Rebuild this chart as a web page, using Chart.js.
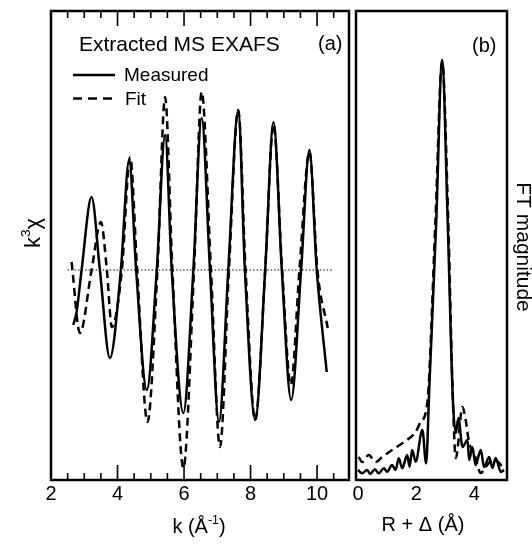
<!DOCTYPE html>
<html>
<head>
<meta charset="utf-8">
<script src="https://cdn.jsdelivr.net/npm/chart.js@4.4.1/dist/chart.umd.min.js"></script>
<style>
body { margin: 0; background: #fff; }
#wrap { position: relative; width: 532px; height: 544px; }
canvas { position: absolute; top: 0; }
#left { left: 0; }
#right { left: 340px; }
</style>
</head>
<body>
<div id="wrap">
<canvas id="left" width="356" height="544"></canvas>
<canvas id="right" width="192" height="544"></canvas>
</div>
<script>
// (a) extracted MS EXAFS, k^3 chi vs k
const kMeasured = [2.67, 2.77, 2.92, 3.22, 3.47, 3.77, 4.10, 4.35, 4.56, 4.88, 5.18, 5.43, 5.63, 5.98, 6.28,
    6.53, 6.78, 7.05, 7.33, 7.63, 7.83, 8.14, 8.44, 8.69, 8.94, 9.22, 9.52, 9.77, 9.99, 10.29];
const chiMeasured = [-5.5, -4.2, 0, 7.3, 0, -8.8, 0, 11.0, 0, -12.0, 0, 13.5, 0, -14.3, 0,
    15.2, 0, -15.2, 0, 16.0, 0, -15.0, 0, 14.8, 0, -13.0, 0, 12.0, 0, -10.2];
const kFit = [2.62, 2.87, 3.22, 3.50, 3.68, 3.83, 4.13, 4.38, 4.59, 4.90, 5.20, 5.43, 5.65, 5.98, 6.30,
    6.53, 6.81, 7.08, 7.35, 7.63, 7.85, 8.14, 8.44, 8.69, 8.95, 9.21, 9.47, 9.77, 10.01, 10.32];
const chiFit = [0.8, -6.3, 0, 4.8, 0, -5.7, 0, 11.3, 0, -15.2, 0, 17.3, 0, -19.8, 0,
    17.8, 0, -17.7, 0, 16.0, 0, -15.0, 0, 14.6, 0, -11.5, 0, 11.8, 0, -5.8];
const zeroLineK = [2.5, 10.5];
const kTicks = [2, 4, 6, 8, 10];

// (b) FT magnitude vs R + delta
const rMeasured = [0.00, 0.14, 0.31, 0.42, 0.58, 0.71, 0.89, 1.00, 1.17, 1.29, 1.40, 1.52, 1.69, 1.77, 1.86,
    1.98, 2.21, 2.34, 2.45, 2.69, 2.89, 3.08, 3.26, 3.36, 3.45, 3.59, 3.76, 3.82, 3.93, 4.04, 4.22,
    4.33, 4.51, 4.62, 4.73, 4.91, 5.02];
const ftMeasured = [1.0, 0.67, 1.0, 0.6, 1.07, 0.67, 1.17, 0.83, 1.5, 1.0, 2.17, 1.17, 2.5, 1.33, 3.0,
    1.83, 5.0, 1.67, 9.3, 26, 42, 26, 8, 4.7, 6.2, 3.3, 4.0, 2.0, 3.3, 1.5, 3.0,
    1.3, 2.3, 1.2, 2.2, 0.8, 1.0];
const rFit = [0.02, 0.14, 0.37, 0.60, 0.83, 1.17, 1.58, 1.98, 2.15, 2.38, 2.66, 2.89, 3.10, 3.24, 3.36,
    3.59, 3.70, 3.82, 3.99, 4.22, 4.39, 4.62, 4.85, 5.02];
const ftFit = [2.3, 1.8, 2.5, 1.8, 2.3, 3.0, 3.8, 4.8, 5.8, 7.7, 26, 41.8, 26, 10, 2.2,
    7.3, 6.0, 3.7, 2.7, 0.7, 1.3, 2.0, 1.7, 1.0];
const rTicks = [0, 1, 2, 3, 4, 5];

const FONT = '"Liberation Sans", Arial, Helvetica, sans-serif';
const pts = (xs, ys) => xs.map((x, i) => ({ x: x, y: ys[i] }));

// draws text pieces, some raised as superscripts
function richText(ctx, parts, x, y, size, align) {
    const widths = parts.map(p => {
        ctx.font = (p.sup ? size * 0.62 : size) + 'px ' + FONT;
        return ctx.measureText(p.t).width;
    });
    const total = widths.reduce((a, b) => a + b, 0);
    let cx = align === 'center' ? x - total / 2 : x;
    ctx.textAlign = 'left';
    ctx.textBaseline = 'alphabetic';
    parts.forEach((p, i) => {
        ctx.font = (p.sup ? size * 0.62 : size) + 'px ' + FONT;
        ctx.fillText(p.t, cx, p.sup ? y - size * 0.45 : y);
        cx += widths[i];
    });
}

// inward ticks on top and bottom + box round the plot
function frame(minorStep, majorStep, minorLen, majorLen) {
    return {
        id: 'frame',
        afterDraw(chart) {
            const { ctx, chartArea: a, scales: { x } } = chart;
            ctx.save();
            ctx.strokeStyle = '#000';
            ctx.lineWidth = 1.6;
            for (let v = x.min; v <= x.max + 1e-6; v += minorStep / 10) {
                const q = Math.round(v * 1000) / 1000;
                if (q <= x.min + 0.02 || q >= x.max - 0.02) continue;
                if (Math.abs(q / minorStep - Math.round(q / minorStep)) > 1e-6) continue;
                const major = Math.abs(q / majorStep - Math.round(q / majorStep)) < 1e-6;
                const len = major ? majorLen : minorLen;
                const px = x.getPixelForValue(q);
                ctx.beginPath();
                ctx.moveTo(px, a.bottom); ctx.lineTo(px, a.bottom - len);
                ctx.moveTo(px, a.top); ctx.lineTo(px, a.top + len);
                ctx.stroke();
            }
            ctx.lineWidth = 2.5;
            ctx.strokeRect(a.left, a.top, a.right - a.left, a.bottom - a.top);
            ctx.restore();
        }
    };
}

const leftText = {
    id: 'leftText',
    afterDraw(chart) {
        const ctx = chart.ctx;
        ctx.save();
        ctx.fillStyle = '#000';
        ctx.strokeStyle = '#000';
        ctx.textAlign = 'left';
        ctx.textBaseline = 'alphabetic';
        ctx.font = '21px ' + FONT;
        ctx.fillText('Extracted MS EXAFS', 79, 50.5);
        ctx.font = '20px ' + FONT;
        ctx.fillText('(a)', 318, 50);
        // legend
        ctx.font = '19px ' + FONT;
        ctx.fillText('Measured', 124, 81);
        ctx.fillText('Fit', 125, 105);
        ctx.lineWidth = 2.5;
        ctx.beginPath(); ctx.moveTo(73, 75); ctx.lineTo(115, 75); ctx.stroke();
        ctx.setLineDash([9, 6]);
        ctx.beginPath(); ctx.moveTo(73, 98.5); ctx.lineTo(115, 98.5); ctx.stroke();
        ctx.setLineDash([]);
        // axis titles
        richText(ctx, [{ t: 'k (Å' }, { t: '-1', sup: true }, { t: ')' }], 199, 533, 20, 'center');
        ctx.translate(40, 233);
        ctx.rotate(-Math.PI / 2);
        richText(ctx, [{ t: 'k' }, { t: '3', sup: true }, { t: 'χ' }], 0, 0, 22, 'center');
        ctx.restore();
    }
};

const rightText = {
    id: 'rightText',
    afterDraw(chart) {
        const ctx = chart.ctx;
        ctx.save();
        ctx.fillStyle = '#000';
        ctx.font = '20px ' + FONT;
        ctx.textAlign = 'left';
        ctx.textBaseline = 'alphabetic';
        ctx.fillText('(b)', 132, 52);
        ctx.textAlign = 'center';
        ctx.fillText('R + Δ (Å)', 83, 531);
        ctx.translate(177, 247);
        ctx.rotate(Math.PI / 2);
        ctx.font = '21px ' + FONT;
        ctx.fillText('FT magnitude', 0, 0);
        ctx.restore();
    }
};

function baseOptions(xmin, xmax, tickVals, ymin, ymax, pad) {
    return {
        responsive: false,
        animation: false,
        layout: { padding: pad },
        plugins: { legend: { display: false }, tooltip: { enabled: false } },
        elements: { point: { radius: 0 } },
        scales: {
            x: {
                type: 'linear', min: xmin, max: xmax,
                grid: { display: false, drawTicks: false },
                border: { display: false },
                afterFit: s => { s.height = 64; },
                afterBuildTicks: s => { s.ticks = tickVals.map(v => ({ value: v })); },
                ticks: {
                    autoSkip: false, maxRotation: 0, padding: 2,
                    color: '#000', font: { family: FONT, size: 20 },
                    callback: v => (Math.abs(v % 2) < 1e-6 ? String(v) : '')
                }
            },
            y: { display: false, min: ymin, max: ymax }
        }
    };
}

new Chart(document.getElementById('left'), {
    type: 'line',
    data: {
        datasets: [
            { data: pts(zeroLineK, [0, 0]), borderColor: '#000', borderWidth: 1, borderDash: [1.5, 2], tension: 0 },
            { data: pts(kMeasured, chiMeasured), borderColor: '#000', borderWidth: 2.5, cubicInterpolationMode: 'monotone' },
            { data: pts(kFit, chiFit), borderColor: '#000', borderWidth: 2.5, borderDash: [8, 5], cubicInterpolationMode: 'monotone' }
        ]
    },
    options: baseOptions(2, 10.96, kTicks, -21, 25.9, { left: 51, top: 11, right: 7, bottom: 0 }),
    plugins: [frame(0.5, 2, 7, 15), leftText]
});

new Chart(document.getElementById('right'), {
    type: 'line',
    data: {
        datasets: [
            { data: pts(rMeasured, ftMeasured), borderColor: '#000', borderWidth: 2.5, cubicInterpolationMode: 'monotone' },
            { data: pts(rFit, ftFit), borderColor: '#000', borderWidth: 2.5, borderDash: [8, 5], cubicInterpolationMode: 'monotone' }
        ]
    },
    options: baseOptions(-0.07, 5.12, rTicks, 0, 46.9, { left: 16, top: 11, right: 25, bottom: 0 }),
    plugins: [frame(1, 2, 7, 15), rightText]
});
</script>
</body>
</html>
